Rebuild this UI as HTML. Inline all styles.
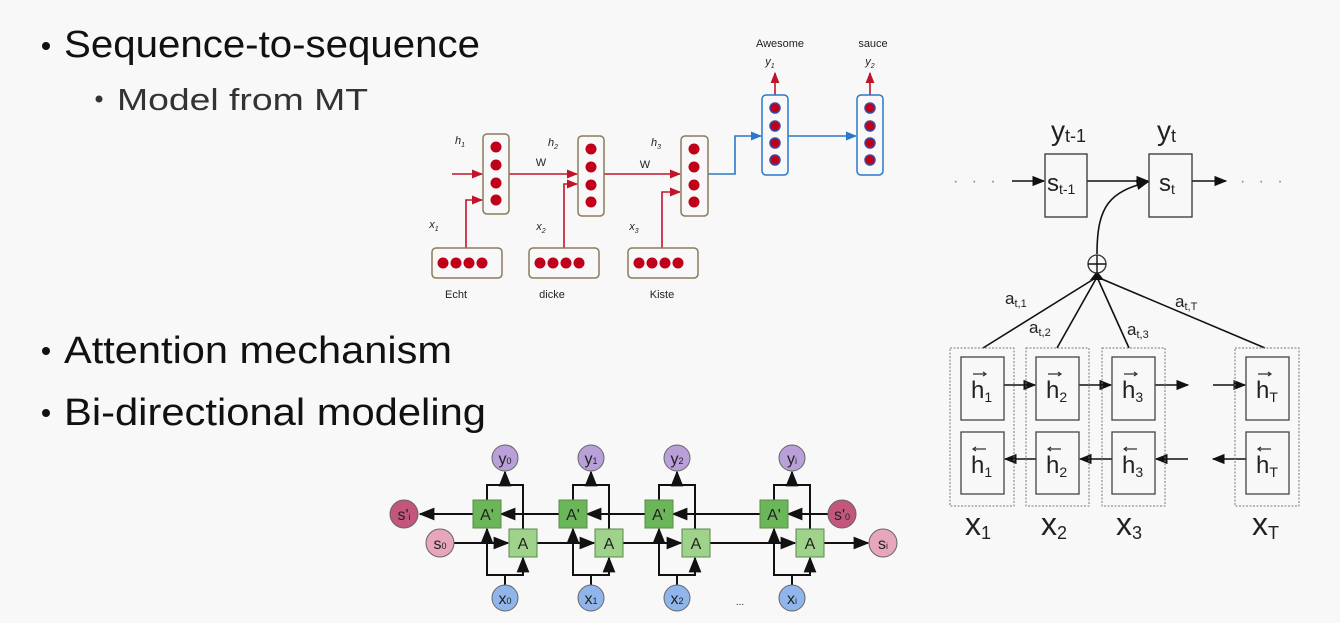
<!DOCTYPE html>
<html><head><meta charset="utf-8"><style>html,body{margin:0;padding:0;background:#f8f8f8}svg{display:block}</style></head><body>
<svg width="1340" height="623" viewBox="0 0 1340 623" xmlns="http://www.w3.org/2000/svg" font-family="Liberation Sans, sans-serif">
<defs>
<marker id="ar" viewBox="0 0 10 10" refX="9" refY="5" markerWidth="7" markerHeight="7" orient="auto"><path d="M0 1 L10 5 L0 9 z" fill="#c0142b"/></marker>
<marker id="ab" viewBox="0 0 10 10" refX="9" refY="5" markerWidth="7" markerHeight="7" orient="auto"><path d="M0 1 L10 5 L0 9 z" fill="#2a78c8"/></marker>
<marker id="ak" viewBox="0 0 10 10" refX="9" refY="5" markerWidth="8" markerHeight="8" orient="auto"><path d="M0 1 L10 5 L0 9 z" fill="#111"/></marker>
</defs>
<rect width="1340" height="623" fill="#f8f8f8"/>
<g fill="#111">
<circle cx="46" cy="46" r="4"/>
<text x="64" y="57" font-size="38" textLength="416" lengthAdjust="spacingAndGlyphs">Sequence-to-sequence</text>
<circle cx="99" cy="99" r="3.5" fill="#333"/>
<text x="117" y="110" font-size="31" fill="#333" textLength="251" lengthAdjust="spacingAndGlyphs">Model from MT</text>
<circle cx="46" cy="351" r="4"/>
<text x="64" y="363" font-size="38" textLength="388" lengthAdjust="spacingAndGlyphs">Attention mechanism</text>
<circle cx="46" cy="413" r="4"/>
<text x="64" y="425" font-size="38" textLength="422" lengthAdjust="spacingAndGlyphs">Bi-directional modeling</text>
</g>
<g stroke="#c0142b" stroke-width="1.6" fill="none">
<path d="M452 174 H482" marker-end="url(#ar)"/>
<path d="M509 174 H577" marker-end="url(#ar)"/>
<path d="M604 174 H680" marker-end="url(#ar)"/>
<path d="M466 248 V200 H482" marker-end="url(#ar)"/>
<path d="M564 248 V184 H577" marker-end="url(#ar)"/>
<path d="M662 248 V192 H680" marker-end="url(#ar)"/>
<path d="M775 95 V73" marker-end="url(#ar)"/>
<path d="M870 95 V73" marker-end="url(#ar)"/>
</g>
<g stroke="#2a78c8" stroke-width="1.6" fill="none">
<path d="M708 174 H735 V136 H761" marker-end="url(#ab)"/>
<path d="M788 136 H856" marker-end="url(#ab)"/>
</g>
<g fill="none" stroke="#8a7a5a" stroke-width="1.5">
<rect x="483" y="134" width="26" height="80" rx="4"/>
<rect x="578" y="136" width="26" height="80" rx="4"/>
<rect x="681" y="136" width="27" height="80" rx="4"/>
<rect x="432" y="248" width="70" height="30" rx="4"/>
<rect x="529" y="248" width="70" height="30" rx="4"/>
<rect x="628" y="248" width="70" height="30" rx="4"/>
</g>
<g fill="none" stroke="#2a78c8" stroke-width="1.5">
<rect x="762" y="95" width="26" height="80" rx="4"/>
<rect x="857" y="95" width="26" height="80" rx="4"/>
</g>
<g fill="#c0001a">
<circle cx="496" cy="147" r="5.5"/><circle cx="496" cy="165" r="5.5"/><circle cx="496" cy="183" r="5.5"/><circle cx="496" cy="200" r="5.5"/>
<circle cx="591" cy="149" r="5.5"/><circle cx="591" cy="167" r="5.5"/><circle cx="591" cy="185" r="5.5"/><circle cx="591" cy="202" r="5.5"/>
<circle cx="694" cy="149" r="5.5"/><circle cx="694" cy="167" r="5.5"/><circle cx="694" cy="185" r="5.5"/><circle cx="694" cy="202" r="5.5"/>
<circle cx="443" cy="263" r="5.5"/><circle cx="456" cy="263" r="5.5"/><circle cx="469" cy="263" r="5.5"/><circle cx="482" cy="263" r="5.5"/>
<circle cx="540" cy="263" r="5.5"/><circle cx="553" cy="263" r="5.5"/><circle cx="566" cy="263" r="5.5"/><circle cx="579" cy="263" r="5.5"/>
<circle cx="639" cy="263" r="5.5"/><circle cx="652" cy="263" r="5.5"/><circle cx="665" cy="263" r="5.5"/><circle cx="678" cy="263" r="5.5"/>
</g>
<g fill="#c0001a" stroke="#3a4aa0" stroke-width="1.5">
<circle cx="775" cy="108" r="5"/><circle cx="775" cy="126" r="5"/><circle cx="775" cy="143" r="5"/><circle cx="775" cy="160" r="5"/>
<circle cx="870" cy="108" r="5"/><circle cx="870" cy="126" r="5"/><circle cx="870" cy="143" r="5"/><circle cx="870" cy="160" r="5"/>
</g>
<g font-size="11" fill="#222" text-anchor="middle">
<text x="780" y="47">Awesome</text><text x="873" y="47">sauce</text>
<text x="456" y="298">Echt</text><text x="552" y="298">dicke</text><text x="662" y="298">Kiste</text>
<text x="541" y="166">W</text><text x="645" y="168">W</text>
<g font-style="italic">
<text x="460" y="144">h<tspan font-size="7" dy="3">1</tspan></text>
<text x="553" y="146">h<tspan font-size="7" dy="3">2</tspan></text>
<text x="656" y="146">h<tspan font-size="7" dy="3">3</tspan></text>
<text x="434" y="228">x<tspan font-size="7" dy="3">1</tspan></text>
<text x="541" y="230">x<tspan font-size="7" dy="3">2</tspan></text>
<text x="634" y="230">x<tspan font-size="7" dy="3">3</tspan></text>
<text x="770" y="65">y<tspan font-size="7" dy="3">1</tspan></text>
<text x="870" y="65">y<tspan font-size="7" dy="3">2</tspan></text>
</g>
</g>
<g stroke="#111" stroke-width="1.6" fill="none">
<path d="M1012 181 H1044" marker-end="url(#ak)"/>
<path d="M1087 181 H1148" marker-end="url(#ak)"/>
<path d="M1192 181 H1226" marker-end="url(#ak)"/>
<path d="M1097 254 C1097 205 1110 192 1148 182" marker-end="url(#ak)"/>
<path d="M983 348 L1097 277"/><path d="M1057 348 L1097 277"/><path d="M1129 348 L1097 277"/><path d="M1265 348 L1097 277"/>
<path d="M1004 385 H1035" marker-end="url(#ak)"/>
<path d="M1079 385 H1111" marker-end="url(#ak)"/>
<path d="M1155 385 H1188" marker-end="url(#ak)"/>
<path d="M1213 385 H1245" marker-end="url(#ak)"/>
<path d="M1036 459 H1005" marker-end="url(#ak)"/>
<path d="M1112 459 H1080" marker-end="url(#ak)"/>
<path d="M1188 459 H1156" marker-end="url(#ak)"/>
<path d="M1246 459 H1213" marker-end="url(#ak)"/>
</g>
<path d="M1090 280 L1097 271 L1104 280 z" fill="#111"/>
<g fill="#f8f8f8" stroke="#333" stroke-width="1.3">
<rect x="1045" y="154" width="42" height="63"/>
<rect x="1149" y="154" width="43" height="63"/>
<circle cx="1097" cy="264" r="9"/>
</g>
<path d="M1088 264 H1106 M1097 255 V273" stroke="#111" stroke-width="1.4"/>
<g fill="#888" font-size="16"><text x="953" y="186">·&#160;&#160;&#160;·&#160;&#160;&#160;·</text><text x="1240" y="186">·&#160;&#160;&#160;·&#160;&#160;&#160;·</text></g>
<g fill="none" stroke="#777" stroke-width="1" stroke-dasharray="2 1.5">
<rect x="950" y="348" width="64" height="158"/><rect x="1026" y="348" width="63" height="158"/>
<rect x="1102" y="348" width="63" height="158"/><rect x="1235" y="348" width="64" height="158"/>
</g>
<g fill="none" stroke="#444" stroke-width="1.3">
<rect x="961" y="357" width="43" height="63"/><rect x="961" y="432" width="43" height="62"/>
<rect x="1036" y="357" width="43" height="63"/><rect x="1036" y="432" width="43" height="62"/>
<rect x="1112" y="357" width="43" height="63"/><rect x="1112" y="432" width="43" height="62"/>
<rect x="1246" y="357" width="43" height="63"/><rect x="1246" y="432" width="43" height="62"/>
</g>
<g fill="#222" font-size="28">
<text x="1051" y="140">y<tspan font-size="18" dy="2">t-1</tspan></text>
<text x="1157" y="140">y<tspan font-size="18" dy="2">t</tspan></text>
<text x="1047" y="191" font-size="24">s<tspan font-size="14" dy="3">t-1</tspan></text>
<text x="1159" y="191" font-size="24">s<tspan font-size="14" dy="3">t</tspan></text>
<text x="965" y="535" font-size="32">x<tspan font-size="18" dy="4">1</tspan></text>
<text x="1041" y="535" font-size="32">x<tspan font-size="18" dy="4">2</tspan></text>
<text x="1116" y="535" font-size="32">x<tspan font-size="18" dy="4">3</tspan></text>
<text x="1252" y="535" font-size="32">x<tspan font-size="18" dy="4">T</tspan></text>
<g font-size="17">
<text x="1005" y="304">a<tspan font-size="11" dy="3">t,1</tspan></text>
<text x="1029" y="333">a<tspan font-size="11" dy="3">t,2</tspan></text>
<text x="1127" y="335">a<tspan font-size="11" dy="3">t,3</tspan></text>
<text x="1175" y="307">a<tspan font-size="11" dy="3">t,T</tspan></text>
</g>
<g font-size="24">
<text x="971" y="398">h<tspan font-size="14" dy="4">1</tspan></text><text x="971" y="473">h<tspan font-size="14" dy="4">1</tspan></text>
<text x="1046" y="398">h<tspan font-size="14" dy="4">2</tspan></text><text x="1046" y="473">h<tspan font-size="14" dy="4">2</tspan></text>
<text x="1122" y="398">h<tspan font-size="14" dy="4">3</tspan></text><text x="1122" y="473">h<tspan font-size="14" dy="4">3</tspan></text>
<text x="1256" y="398">h<tspan font-size="14" dy="4">T</tspan></text><text x="1256" y="473">h<tspan font-size="14" dy="4">T</tspan></text>
</g>
</g>
<g stroke="#333" stroke-width="1.2" fill="none">
<path d="M973 374 H986 M983 372 L986 374 L983 376"/><path d="M1048 374 H1061 M1058 372 L1061 374 L1058 376"/>
<path d="M1124 374 H1137 M1134 372 L1137 374 L1134 376"/><path d="M1258 374 H1271 M1268 372 L1271 374 L1268 376"/>
<path d="M973 449 H986 M976 447 L973 449 L976 451"/><path d="M1048 449 H1061 M1051 447 L1048 449 L1051 451"/>
<path d="M1124 449 H1137 M1127 447 L1124 449 L1127 451"/><path d="M1258 449 H1271 M1261 447 L1258 449 L1261 451"/>
</g>
<g stroke="#111" stroke-width="2" fill="none">
<path d="M828 514 H788" marker-end="url(#ak)"/>
<path d="M760 514 H673" marker-end="url(#ak)"/>
<path d="M645 514 H587" marker-end="url(#ak)"/>
<path d="M559 514 H501" marker-end="url(#ak)"/>
<path d="M473 514 H420" marker-end="url(#ak)"/>
<path d="M454 543 H508" marker-end="url(#ak)"/>
<path d="M537 543 H594" marker-end="url(#ak)"/>
<path d="M623 543 H681" marker-end="url(#ak)"/>
<path d="M710 543 H795" marker-end="url(#ak)"/>
<path d="M824 543 H868" marker-end="url(#ak)"/>
</g>
<g stroke="#111" stroke-width="2" fill="none">
<g id="col">
<path d="M487 500 V485 H523 V529"/>
<path d="M505 485 V472" marker-end="url(#ak)"/>
<path d="M505 585 V575 H487 V529" marker-end="url(#ak)"/>
<path d="M505 575 H523 V558" marker-end="url(#ak)"/>
</g>
<use href="#col" transform="translate(86 0)"/>
<use href="#col" transform="translate(172 0)"/>
<use href="#col" transform="translate(287 0)"/>
</g>
<g stroke="#5a8a4a" stroke-width="1">
<rect x="473" y="500" width="28" height="28" fill="#6cb65a"/><rect x="559" y="500" width="28" height="28" fill="#6cb65a"/>
<rect x="645" y="500" width="28" height="28" fill="#6cb65a"/><rect x="760" y="500" width="28" height="28" fill="#6cb65a"/>
<rect x="509" y="529" width="28" height="28" fill="#9fd38c"/><rect x="595" y="529" width="28" height="28" fill="#9fd38c"/>
<rect x="682" y="529" width="28" height="28" fill="#9fd38c"/><rect x="796" y="529" width="28" height="28" fill="#9fd38c"/>
</g>
<g stroke="#666" stroke-width="1">
<circle cx="505" cy="458" r="13" fill="#b9a0d8"/><circle cx="591" cy="458" r="13" fill="#b9a0d8"/>
<circle cx="677" cy="458" r="13" fill="#b9a0d8"/><circle cx="792" cy="458" r="13" fill="#b9a0d8"/>
<circle cx="505" cy="598" r="13" fill="#8fb5ea"/><circle cx="591" cy="598" r="13" fill="#8fb5ea"/>
<circle cx="677" cy="598" r="13" fill="#8fb5ea"/><circle cx="792" cy="598" r="13" fill="#8fb5ea"/>
<circle cx="404" cy="514" r="14" fill="#c4567e"/><circle cx="842" cy="514" r="14" fill="#c4567e"/>
<circle cx="440" cy="543" r="14" fill="#e7a6bc"/><circle cx="883" cy="543" r="14" fill="#e7a6bc"/>
</g>
<g font-size="16" fill="#222" text-anchor="middle">
<text x="487" y="520">A'</text><text x="573" y="520">A'</text><text x="659" y="520">A'</text><text x="774" y="520">A'</text>
<text x="523" y="549">A</text><text x="609" y="549">A</text><text x="696" y="549">A</text><text x="810" y="549">A</text>
<text x="505" y="464">y<tspan font-size="9">0</tspan></text><text x="591" y="464">y<tspan font-size="9">1</tspan></text>
<text x="677" y="464">y<tspan font-size="9">2</tspan></text><text x="792" y="464">y<tspan font-size="9">i</tspan></text>
<text x="505" y="604">x<tspan font-size="9">0</tspan></text><text x="591" y="604">x<tspan font-size="9">1</tspan></text>
<text x="677" y="604">x<tspan font-size="9">2</tspan></text><text x="792" y="604">x<tspan font-size="9">i</tspan></text>
<text x="404" y="520">s'<tspan font-size="9">i</tspan></text><text x="842" y="520">s'<tspan font-size="9">0</tspan></text>
<text x="440" y="549">s<tspan font-size="9">0</tspan></text><text x="883" y="549">s<tspan font-size="9">i</tspan></text>
<text x="740" y="605" font-size="10">...</text>
</g>
</svg>
</body></html>
